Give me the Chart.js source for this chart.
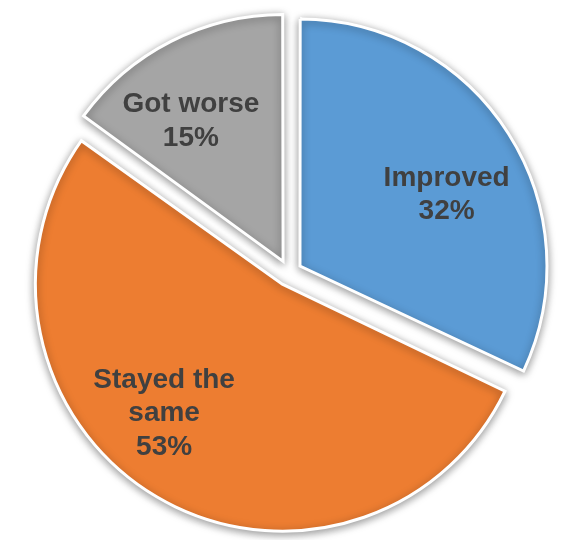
<!DOCTYPE html>
<html lang="en">
<head>
    <meta charset="UTF-8">
    <title>Pie</title>
    <style>
        html, body { margin: 0; padding: 0; background: #fff; }
        #container { width: 564px; height: 540px; }
    </style>
</head>
<body>
<div id="container">
    <canvas id="canvas" width="564" height="540"></canvas>
</div>

<script src="https://cdn.jsdelivr.net/npm/chart.js@4.4.0/dist/chart.umd.min.js"></script>
<script>
    const LABELS = ["Improved", "Stayed the same", "Got worse"];
    const LABEL_LINES = [["Improved"], ["Stayed the", "same"], ["Got worse"]];
    const VALUES = [32, 53, 15];
    const COLORS = ["#5B9BD5", "#ED7D31", "#A5A5A5"];

    const RADIUS = 247;
    const EXPLODE = 13;   // px each slice is pulled out
    // label placement: distance from slice tip (fraction of radius) and angle nudge in degrees
    const LABEL_DIST = [0.66, 0.71, 0.68];
    const LABEL_NUDGE = [6.5, 11.8, -6.3];

    // chart.js grows the radius with the offset, undo that and add a soft shadow
    const sliceLook = {
        id: "sliceLook",
        beforeDatasetDraw(chart, args) {
            args.meta.data.forEach(function(arc) {
                const off = (arc.options.offset || 0) / 4;
                const circ = arc.endAngle - arc.startAngle;
                const fix = 1 - Math.sin(Math.min(Math.PI, circ));
                arc.outerRadius = RADIUS - off * fix;
            });
            const ctx = chart.ctx;
            ctx.save();
            ctx.shadowColor = "rgba(0,0,0,0.4)";
            ctx.shadowBlur = 8;
            ctx.shadowOffsetX = 0;
            ctx.shadowOffsetY = 2;
        },
        afterDatasetDraw(chart) {
            chart.ctx.restore();
        }
    };

    const sliceLabels = {
        id: "sliceLabels",
        afterDatasetsDraw(chart) {
            const ctx = chart.ctx;
            const meta = chart.getDatasetMeta(0);
            ctx.save();
            ctx.font = "bold 28px 'Liberation Sans', Arial, sans-serif";
            ctx.fillStyle = "#404040";
            ctx.textAlign = "center";
            ctx.textBaseline = "middle";
            meta.data.forEach(function(arc, i) {
                const mid = (arc.startAngle + arc.endAngle) / 2;
                const tipX = arc.x + Math.cos(mid) * EXPLODE;
                const tipY = arc.y + Math.sin(mid) * EXPLODE;
                const ang = mid + LABEL_NUDGE[i] * Math.PI / 180;
                const d = LABEL_DIST[i] * RADIUS;
                const cx = tipX + Math.cos(ang) * d;
                const cy = tipY + Math.sin(ang) * d;
                const lines = LABEL_LINES[i].concat([VALUES[i] + "%"]);
                const lh = 33.5;
                const top = cy - (lines.length - 1) * lh / 2;
                lines.forEach(function(t, j) {
                    ctx.fillText(t, cx, top + j * lh);
                });
            });
            ctx.restore();
        }
    };

    const ctx = document.getElementById("canvas").getContext("2d");
    new Chart(ctx, {
        type: "pie",
        data: {
            labels: LABELS,
            datasets: [{
                data: VALUES,
                backgroundColor: COLORS,
                borderColor: "#ffffff",
                borderWidth: 3,
                borderJoinStyle: "miter",
                offset: EXPLODE * 4
            }]
        },
        options: {
            responsive: false,
            animation: false,
            radius: RADIUS,
            layout: { padding: { left: 14, right: 0, top: 6, bottom: 0 } },
            plugins: {
                legend: { display: false },
                tooltip: { enabled: false }
            }
        },
        plugins: [sliceLook, sliceLabels]
    });
</script>
</body>
</html>
